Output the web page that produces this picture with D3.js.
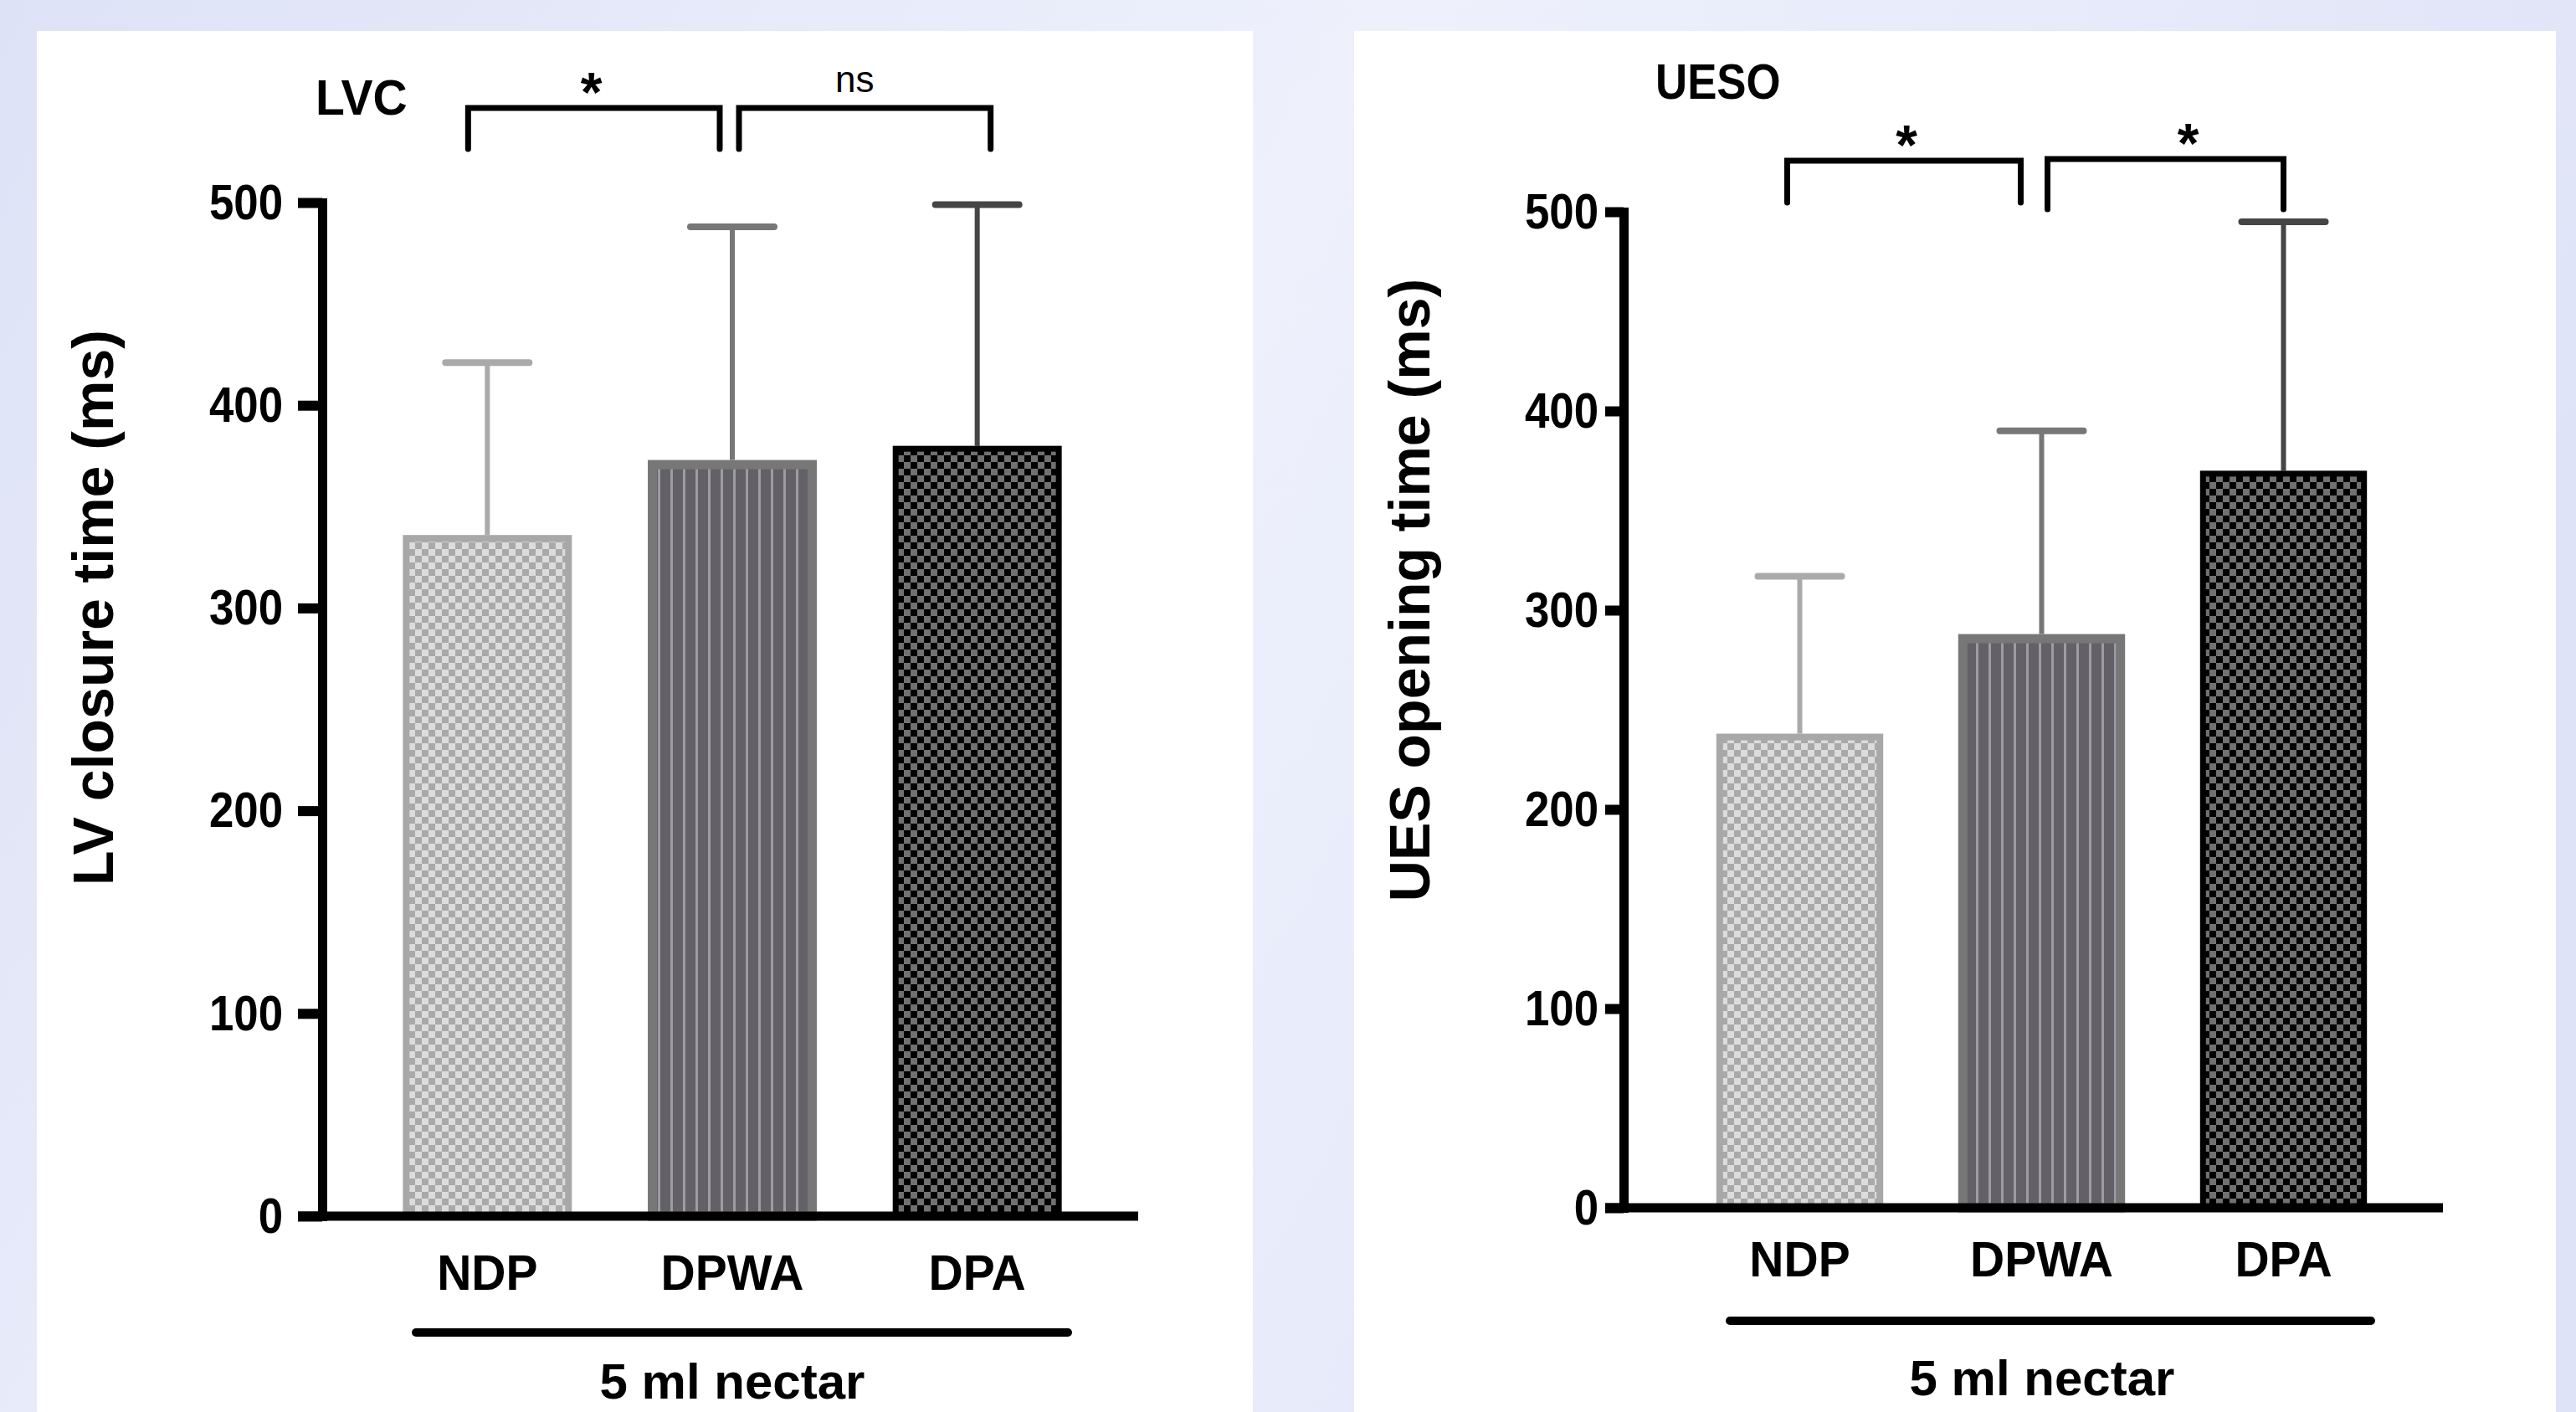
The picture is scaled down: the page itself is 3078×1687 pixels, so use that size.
<!DOCTYPE html>
<html>
<head>
<meta charset="utf-8">
<script src="https://cdnjs.cloudflare.com/ajax/libs/d3/7.8.5/d3.min.js"></script>
<style>
html, body { margin: 0; padding: 0; overflow: hidden; background: #e6e9f8; }
svg { display: block; font-family: "Liberation Sans", Arial, sans-serif; }
</style>
</head>
<body>
<svg id="chart" width="3078" height="1687"></svg>
<script>
// data
var categories = ["NDP", "DPWA", "DPA"];
var lvcMeans = [336, 373, 380];
var lvcSD = [85, 115, 119];
var uesoMeans = [238, 288, 370];
var uesoSD = [79, 102, 125];
var yTicks = [0, 100, 200, 300, 400, 500];
var sigPairs = [["NDP", "DPWA"], ["DPWA", "DPA"]];
var lvcSig = ["*", "ns"];
var uesoSig = ["*", "*"];

var svg = d3.select("#chart");

// background
var defs = svg.append("defs");
var bg = defs.append("linearGradient").attr("id", "bg")
    .attr("x1", "0").attr("y1", "0").attr("x2", "1").attr("y2", "0.3");
bg.append("stop").attr("offset", "0").attr("stop-color", "#dde2f6");
bg.append("stop").attr("offset", "0.5").attr("stop-color", "#eef1fc");
bg.append("stop").attr("offset", "1").attr("stop-color", "#dfe3f7");
svg.append("rect").attr("width", 3078).attr("height", 1687).attr("fill", "url(#bg)");

// bar fill patterns
function checker(id, cell, dark, light) {
    var p = defs.append("pattern").attr("id", id)
        .attr("patternUnits", "userSpaceOnUse")
        .attr("width", cell * 2).attr("height", cell * 2);
    p.append("rect").attr("width", cell * 2).attr("height", cell * 2).attr("fill", dark);
    p.append("rect").attr("width", cell).attr("height", cell).attr("fill", light);
    p.append("rect").attr("x", cell).attr("y", cell).attr("width", cell).attr("height", cell).attr("fill", light);
}
checker("patNDP", 8, "#a9a9a9", "#dcdcdc");
checker("patDPA", 8, "#000000", "#717171");
var stripes = defs.append("pattern").attr("id", "patDPWA")
    .attr("patternUnits", "userSpaceOnUse").attr("width", 15).attr("height", 15);
stripes.append("rect").attr("width", 15).attr("height", 15).attr("fill", "#636167");
stripes.append("rect").attr("x", 6).attr("width", 3).attr("height", 15).attr("fill", "#9e9ca3");

var barStyle = {
    NDP:  {fill: "url(#patNDP)",  stroke: "#a8a8a8", sw: 8,  err: "#aaaaaa"},
    DPWA: {fill: "url(#patDPWA)", stroke: "#777777", sw: 11, err: "#777777"},
    DPA:  {fill: "url(#patDPA)",  stroke: "#000000", sw: 7,  err: "#454545"}
};

function condense(sel, k) {
    sel.each(function() {
        var w = this.getComputedTextLength();
        d3.select(this).attr("textLength", w * k).attr("lengthAdjust", "spacingAndGlyphs");
    });
}

function drawPanel(cfg) {
    svg.append("rect").attr("x", cfg.panel[0]).attr("y", cfg.panel[1])
        .attr("width", cfg.panel[2]).attr("height", cfg.panel[3]).attr("fill", "#ffffff");

    var g = svg.append("g");
    var y = d3.scaleLinear().domain([0, 500]).range([cfg.y0, cfg.y500]);
    var x = d3.scaleBand().domain(categories).range(cfg.xRange)
        .paddingInner(0.31).paddingOuter(0.155);
    var bw = x.bandwidth();

    // error bars (upper only)
    var err = g.append("g");
    categories.forEach(function(c, i) {
        var cx = x(c) + bw / 2;
        var st = barStyle[c];
        err.append("line").attr("x1", cx).attr("x2", cx)
            .attr("y1", y(cfg.means[i])).attr("y2", y(cfg.means[i] + cfg.sd[i]))
            .attr("stroke", st.err).attr("stroke-width", 6);
        err.append("line").attr("x1", cx - 50).attr("x2", cx + 50)
            .attr("y1", y(cfg.means[i] + cfg.sd[i])).attr("y2", y(cfg.means[i] + cfg.sd[i]))
            .attr("stroke", st.err).attr("stroke-width", 8).attr("stroke-linecap", "round");
    });

    // bars
    g.append("g").selectAll("rect").data(categories).join("rect")
        .attr("x", function(c) { return x(c) + barStyle[c].sw / 2; })
        .attr("y", function(c, i) { return y(cfg.means[i]) + barStyle[c].sw / 2; })
        .attr("width", function(c) { return bw - barStyle[c].sw; })
        .attr("height", function(c, i) { return y(0) - y(cfg.means[i]) - barStyle[c].sw / 2; })
        .attr("fill", function(c) { return barStyle[c].fill; })
        .attr("stroke", function(c) { return barStyle[c].stroke; })
        .attr("stroke-width", function(c) { return barStyle[c].sw; });

    // y axis
    var ya = g.append("g").attr("transform", "translate(" + cfg.axisX + ",0)")
        .call(d3.axisLeft(y).tickValues(yTicks).tickSize(cfg.tick).tickSizeOuter(0).tickPadding(cfg.tickPad));
    ya.select(".domain").attr("stroke", "#000").attr("stroke-width", 11).attr("stroke-linecap", "square");
    ya.selectAll(".tick line").attr("stroke", "#000").attr("stroke-width", 12);
    ya.selectAll(".tick text").attr("font-size", 60).attr("font-weight", "bold").attr("fill", "#000");
    condense(ya.selectAll(".tick text"), 0.88);

    // x axis
    g.append("line").attr("x1", cfg.axisX - cfg.tick).attr("x2", cfg.xEnd)
        .attr("y1", y(0)).attr("y2", y(0)).attr("stroke", "#000").attr("stroke-width", 11);
    var xa = g.append("g").attr("transform", "translate(0," + y(0) + ")")
        .call(d3.axisBottom(x).tickSize(0).tickPadding(cfg.catPad));
    xa.select(".domain").remove();
    xa.selectAll(".tick text").attr("font-size", 60).attr("font-weight", "bold").attr("fill", "#000");
    condense(xa.selectAll(".tick text"), 0.95);

    // group line + label
    g.append("line").attr("x1", cfg.groupLine[0]).attr("x2", cfg.groupLine[1])
        .attr("y1", cfg.groupLine[2]).attr("y2", cfg.groupLine[2])
        .attr("stroke", "#000").attr("stroke-width", 10).attr("stroke-linecap", "round");
    g.append("text").attr("x", cfg.groupLabel[0]).attr("y", cfg.groupLabel[1])
        .attr("text-anchor", "middle").attr("font-size", 60).attr("font-weight", "bold")
        .text("5 ml nectar");

    // y title
    g.append("text")
        .attr("transform", "translate(" + cfg.yTitle[0] + "," + cfg.yTitle[1] + ") rotate(-90)")
        .attr("text-anchor", "middle").attr("font-size", 68).attr("font-weight", "bold")
        .text(cfg.yLabel);

    // panel title
    var t = g.append("text").attr("x", cfg.title[0]).attr("y", cfg.title[1])
        .attr("font-size", 60).attr("font-weight", "bold").text(cfg.name);
    condense(t, cfg.titleK);

    // significance brackets
    sigPairs.forEach(function(pair, i) {
        var x1 = x(pair[0]) + bw / 2 + cfg.brOff[i][0];
        var x2 = x(pair[1]) + bw / 2 + cfg.brOff[i][1];
        var by = cfg.brY[i], leg = cfg.brLeg[i];
        g.append("path")
            .attr("d", "M" + x1 + "," + leg + "V" + by + "H" + x2 + "V" + leg)
            .attr("fill", "none").attr("stroke", "#000").attr("stroke-width", 7)
            .attr("stroke-linecap", "round");
        var lab = cfg.sig[i];
        var isStar = lab === "*";
        g.append("text").attr("x", (x1 + x2) / 2 + cfg.labOff[i])
            .attr("y", isStar ? by + 4 : by - 19)
            .attr("text-anchor", "middle")
            .attr("font-size", isStar ? 66 : 44)
            .attr("font-weight", isStar ? "bold" : "normal")
            .text(lab);
    });
}

drawPanel({
    name: "LVC", yLabel: "LV closure time (ms)",
    means: lvcMeans, sd: lvcSD, sig: lvcSig,
    panel: [44, 37, 1453, 1700],
    y0: 1453, y500: 242, axisX: 385, xEnd: 1360, tick: 29, tickPad: 18,
    xRange: [436, 1314], catPad: 45,
    groupLine: [497, 1276, 1592], groupLabel: [875, 1671],
    yTitle: [135, 726], title: [377, 137], titleK: 0.95,
    brOff: [[-23, -15], [8, 16]], brY: [129, 129], brLeg: [178, 178],
    labOff: [-3, -12]
});

drawPanel({
    name: "UESO", yLabel: "UES opening time (ms)",
    means: uesoMeans, sd: uesoSD, sig: uesoSig,
    panel: [1618, 37, 1436, 1700],
    y0: 1443, y500: 253, axisX: 1940, xEnd: 2919, tick: 22, tickPad: 8,
    xRange: [2006, 2873], catPad: 39,
    groupLine: [2067, 2833, 1578], groupLabel: [2440, 1667],
    yTitle: [1708, 705], title: [1978, 118], titleK: 0.88,
    brOff: [[-15, -25], [7, 0]], brY: [192, 190], brLeg: [242, 250],
    labOff: [3, 27]
});
</script>
</body>
</html>
